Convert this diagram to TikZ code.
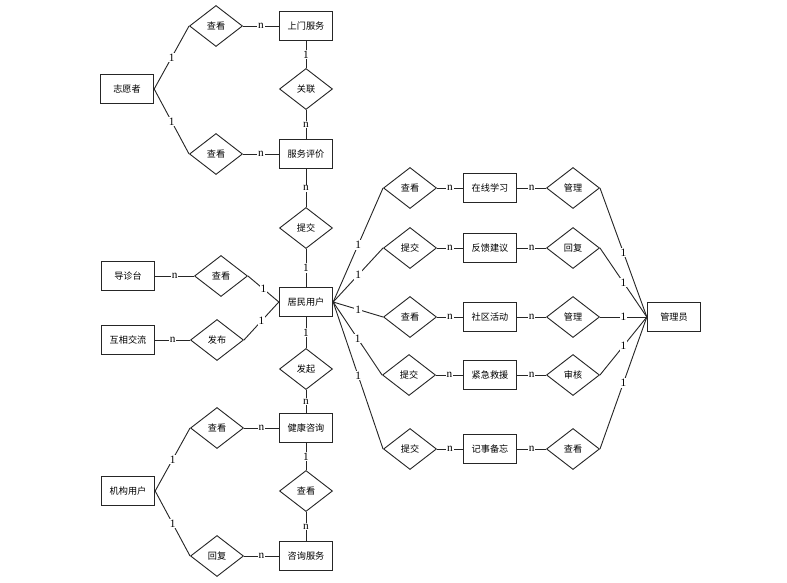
\documentclass[tikz,border=0pt]{standalone}
\usepackage{fontspec}
\setmainfont{Liberation Serif}
\newfontfamily\cjk{Noto Sans CJK SC}
\usetikzlibrary{shapes.geometric}

\begin{document}
\begin{tikzpicture}[x=0.025cm, y=-0.025cm, line width=0.65pt, draw=black!85,
    entity/.style={draw=black!85, line width=0.95pt, rectangle, minimum width=1.325cm, minimum height=0.72cm, inner sep=0pt, font=\cjk\fontsize{6.5}{7}\selectfont},
    rel/.style={draw=black!85, diamond, inner sep=0pt, minimum width=1.325cm, minimum height=1.025cm, font=\cjk\fontsize{6.5}{7}\selectfont},
    card/.style={fill=white, inner sep=0.6pt, font=\fontsize{8}{8}\selectfont}]
        \useasboundingbox (0,0) rectangle (787,583);

        % entities
        \node (zyz) [entity] at (127,89) {志愿者};
        \node (smfw) [entity] at (306,26) {上门服务};
        \node (fwpj) [entity] at (306,154) {服务评价};
        \node (dzt) [entity] at (128,276) {导诊台};
        \node (hxjl) [entity] at (128,340) {互相交流};
        \node (jmyh) [entity] at (306,302) {居民用户};
        \node (jkzx) [entity] at (306,428) {健康咨询};
        \node (jgyh) [entity] at (128,491) {机构用户};
        \node (zxfw) [entity] at (306,556) {咨询服务};
        \node (zxxx) [entity] at (490,188) {在线学习};
        \node (fkjy) [entity] at (490,248) {反馈建议};
        \node (sqhd) [entity] at (490,317) {社区活动};
        \node (jjjy) [entity] at (490,375) {紧急救援};
        \node (jsbw) [entity] at (490,449) {记事备忘};
        \node (gly) [entity] at (674,317) {管理员};

        % relations
        \node (ck1) [rel] at (216,26) {查看};
        \node (ck2) [rel] at (216,154) {查看};
        \node (gl) [rel] at (306,89) {关联};
        \node (tj1) [rel] at (306,228) {提交};
        \node (ck3) [rel] at (221,276) {查看};
        \node (fb) [rel] at (217,340) {发布};
        \node (fq) [rel] at (306,369) {发起};
        \node (ck4) [rel] at (217,428) {查看};
        \node (ck5) [rel] at (306,491) {查看};
        \node (hf1) [rel] at (217,556) {回复};
        \node (ck6) [rel] at (410,188) {查看};
        \node (tj2) [rel] at (410,248) {提交};
        \node (ck7) [rel] at (410,317) {查看};
        \node (tj3) [rel] at (409,375) {提交};
        \node (tj4) [rel] at (410,449) {提交};
        \node (gl1) [rel] at (573,188) {管理};
        \node (hf2) [rel] at (573,248) {回复};
        \node (gl2) [rel] at (573,317) {管理};
        \node (sh) [rel] at (573,375) {审核};
        \node (ck8) [rel] at (573,449) {查看};

        % left part
        \draw (zyz.east) -- node[card] {1} (ck1.west);
        \draw (ck1.east) -- node[card] {n} (smfw.west);
        \draw (zyz.east) -- node[card] {1} (ck2.west);
        \draw (ck2.east) -- node[card] {n} (fwpj.west);
        \draw (smfw.south) -- node[card] {1} (gl.north);
        \draw (gl.south) -- node[card] {n} (fwpj.north);
        \draw (fwpj.south) -- node[card] {n} (tj1.north);
        \draw (tj1.south) -- node[card] {1} (jmyh.north);
        \draw (dzt.east) -- node[card] {n} (ck3.west);
        \draw (ck3.east) -- node[card] {1} (jmyh.west);
        \draw (hxjl.east) -- node[card] {n} (fb.west);
        \draw (fb.east) -- node[card] {1} (jmyh.west);
        \draw (jmyh.south) -- node[card] {1} (fq.north);
        \draw (fq.south) -- node[card] {n} (jkzx.north);
        \draw (jgyh.east) -- node[card] {1} (ck4.west);
        \draw (ck4.east) -- node[card] {n} (jkzx.west);
        \draw (jgyh.east) -- node[card] {1} (hf1.west);
        \draw (hf1.east) -- node[card] {n} (zxfw.west);
        \draw (jkzx.south) -- node[card] {1} (ck5.north);
        \draw (ck5.south) -- node[card] {n} (zxfw.north);

        % right part
        \draw (jmyh.east) -- node[card] {1} (ck6.west);
        \draw (jmyh.east) -- node[card] {1} (tj2.west);
        \draw (jmyh.east) -- node[card] {1} (ck7.west);
        \draw (jmyh.east) -- node[card] {1} (tj3.west);
        \draw (jmyh.east) -- node[card] {1} (tj4.west);
        \draw (ck6.east) -- node[card] {n} (zxxx.west);
        \draw (tj2.east) -- node[card] {n} (fkjy.west);
        \draw (ck7.east) -- node[card] {n} (sqhd.west);
        \draw (tj3.east) -- node[card] {n} (jjjy.west);
        \draw (tj4.east) -- node[card] {n} (jsbw.west);
        \draw (zxxx.east) -- node[card] {n} (gl1.west);
        \draw (fkjy.east) -- node[card] {n} (hf2.west);
        \draw (sqhd.east) -- node[card] {n} (gl2.west);
        \draw (jjjy.east) -- node[card] {n} (sh.west);
        \draw (jsbw.east) -- node[card] {n} (ck8.west);
        \draw (gl1.east) -- node[card] {1} (gly.west);
        \draw (hf2.east) -- node[card] {1} (gly.west);
        \draw (gl2.east) -- node[card] {1} (gly.west);
        \draw (sh.east) -- node[card] {1} (gly.west);
        \draw (ck8.east) -- node[card] {1} (gly.west);
    \end{tikzpicture}
\end{document}
